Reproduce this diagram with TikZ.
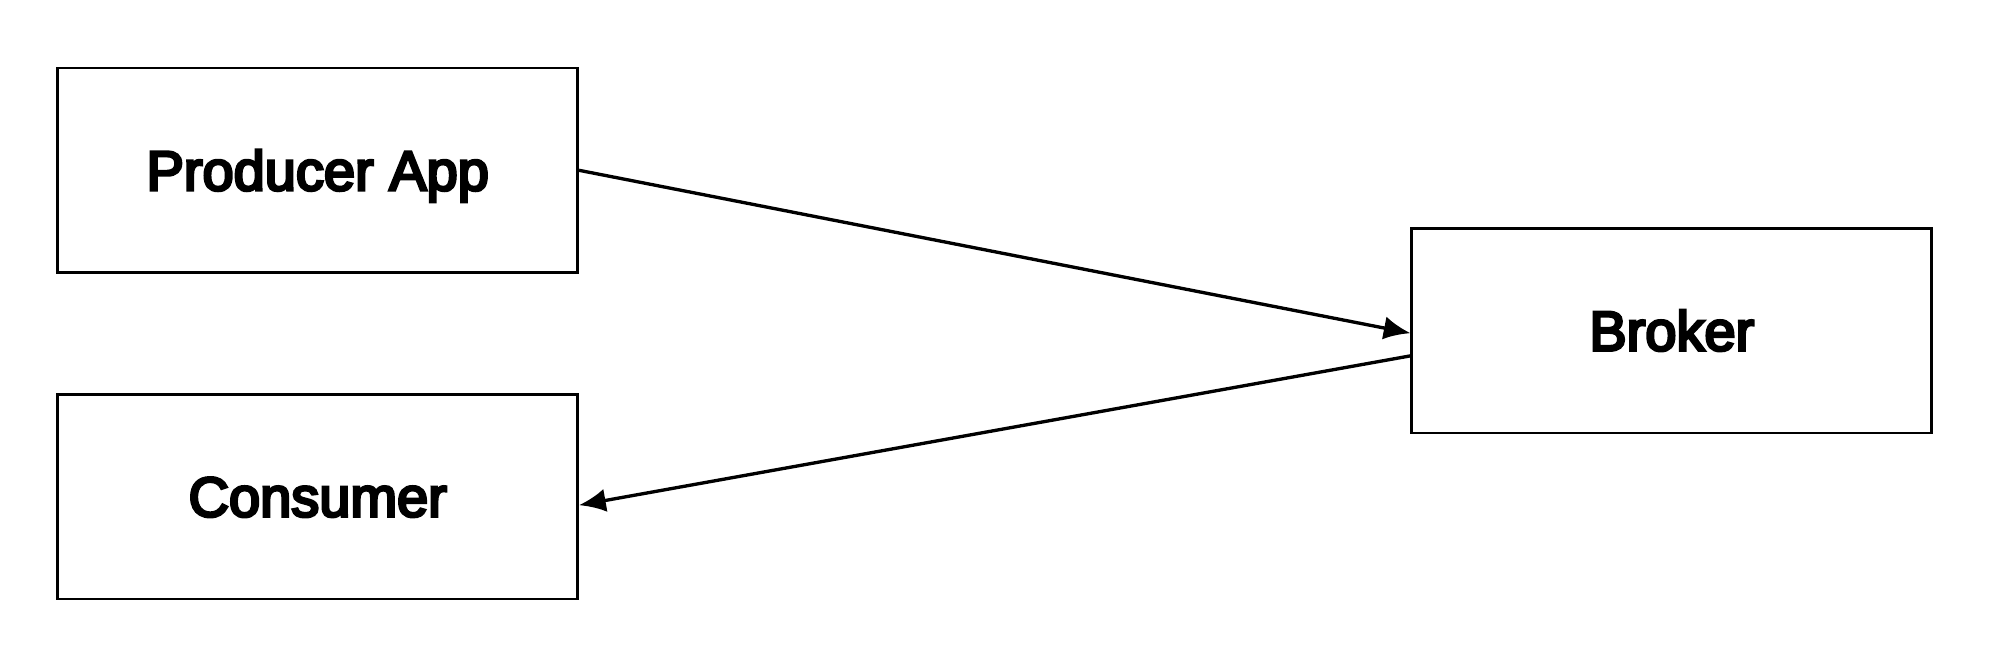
\documentclass[tikz,border=0pt]{standalone}
\usepackage{fontspec}
\newfontfamily\boxfont{Liberation Sans}[RawFeature={embolden=5}]
\usetikzlibrary{arrows.meta}
\usepackage{xcolor}

\begin{document}
\begin{tikzpicture}[x=0.3pt, y=-0.3pt, font=\boxfont\fontsize{16.8}{20}\selectfont]
\tikzset{appnode/.style={draw, line width=0.8pt, minimum width=156pt, minimum height=61.4pt, text height=12pt, text depth=0pt, align=center, inner sep=0pt} }
\tikzset{>={Latex[width=7pt,length=8pt]}}
\useasboundingbox (0,0) rectangle (2008,666);
\node[appnode] (prod) at (317.75,170.3) {Producer App};
\node[appnode] (cons) at (317.75,496.5) {Consumer};
\node[appnode] (brok) at (1671.8,330.5) {Broker};
\path[->, line width=1pt] (prod.east) edge ([yshift=-0.8pt]brok.west);
\path[->, line width=1pt] ([yshift=-7.6pt]brok.west) edge ([yshift=-2.6pt]cons.east);
\end{tikzpicture}
\end{document}
